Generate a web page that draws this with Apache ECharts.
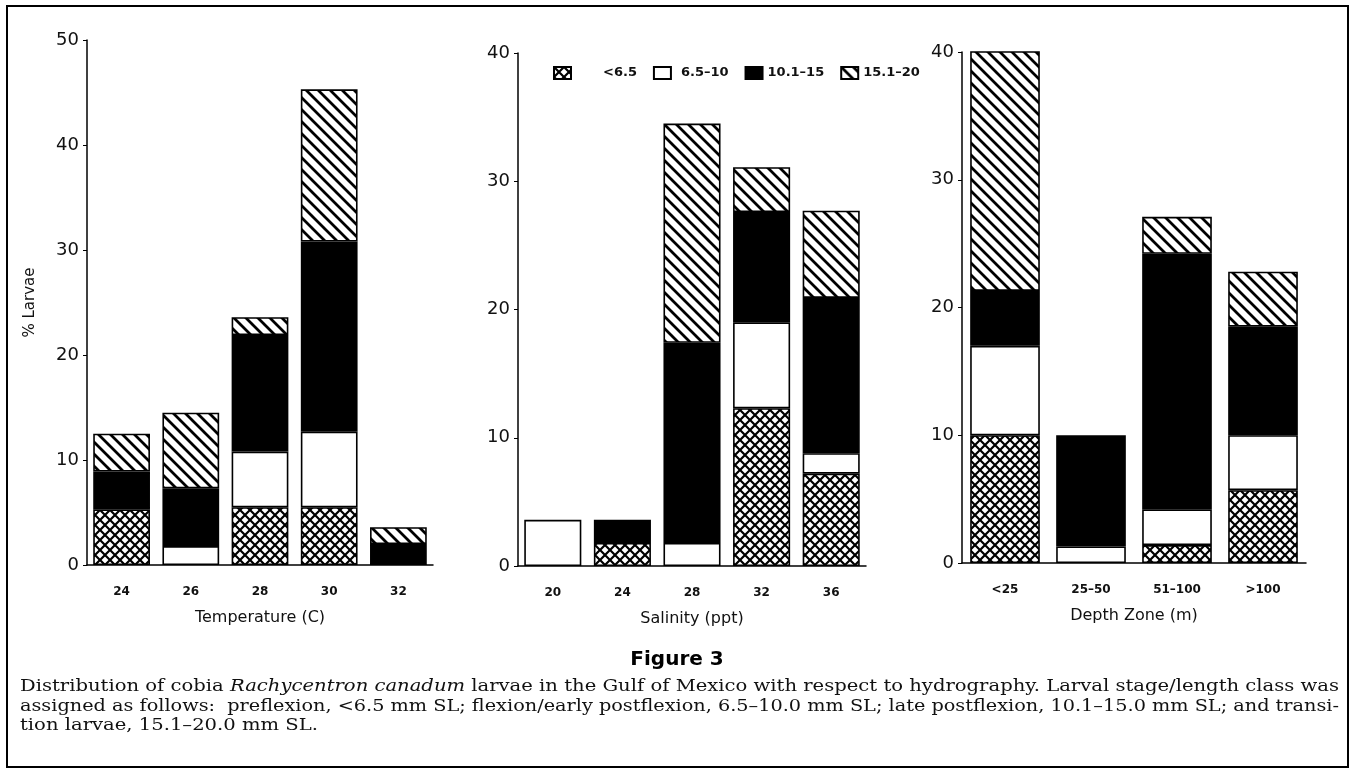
<!DOCTYPE html>
<html><head><meta charset="utf-8">
<script src="https://cdn.jsdelivr.net/npm/echarts@6/dist/echarts.min.js"></script>
<style>html,body{margin:0;padding:0;background:#fff}#c{width:1352px;height:775px}</style>
</head><body><div id="c"></div>
<script>
// ---- data ----
const seriesNames = ['<6.5', '6.5–10', '10.1–15', '15.1–20'];

const tempCategories = ['24', '26', '28', '30', '32'];
const tempPre   = [5.3, 0,   5.5,  5.5,  0];
const tempFlex  = [0,   1.8, 5.3,  7.2,  0];
const tempLate  = [3.6, 5.5, 11.1, 18.1, 2.0];
const tempTrans = [3.6, 7.2, 1.7,  14.5, 1.6];

const salCategories = ['20', '24', '28', '32', '36'];
const salPre   = [0,   1.8, 0,    12.3, 7.2];
const salFlex  = [3.6, 0,   1.8,  6.7,  1.6];
const salLate  = [0,   1.8, 15.6, 8.6,  12.1];
const salTrans = [0,   0,   17.1, 3.5,  6.8];

const depthCategories = ['<25', '25–50', '51–100', '>100'];
const depthPre   = [10.0, 0,   1.4,  5.7];
const depthFlex  = [7.0,  1.3, 2.8,  4.3];
const depthLate  = [4.3,  8.7, 20.0, 8.5];
const depthTrans = [18.8, 0,   2.9,  4.3];

const axisNames = ['Temperature (C)', 'Salinity (ppt)', 'Depth Zone (m)'];
const yAxisTitle = '% Larvae';
const yMax = [50, 40, 40];
const figTitle = 'Figure 3';
const captionL1a = 'Distribution of cobia ';
const captionL1b = 'Rachycentron canadum';
const captionL1c = ' larvae in the Gulf of Mexico with respect to hydrography. Larval stage/length class was';
const captionL2 = 'assigned as follows:  preflexion, <6.5 mm SL; flexion/early postflexion, 6.5–10.0 mm SL; late postflexion, 10.1–15.0 mm SL; and transi-';
const captionL3 = 'tion larvae, 15.1–20.0 mm SL.';

// ---- patterns ----
function makeCross() {
  const s = 10, c = document.createElement('canvas');
  c.width = s; c.height = s;
  const g = c.getContext('2d');
  g.fillStyle = '#fff'; g.fillRect(0, 0, s, s);
  g.strokeStyle = '#000'; g.lineWidth = 2.2;
  g.beginPath();
  g.moveTo(-1, -1); g.lineTo(s + 1, s + 1);
  g.moveTo(s + 1, -1); g.lineTo(-1, s + 1);
  g.stroke();
  return c;
}
function makeHatch() {
  const s = 12, c = document.createElement('canvas');
  c.width = s; c.height = s;
  const g = c.getContext('2d');
  g.fillStyle = '#fff'; g.fillRect(0, 0, s, s);
  g.strokeStyle = '#000'; g.lineWidth = 2.8;
  g.beginPath();
  for (const k of [-1, 0, 1]) { g.moveTo(k * s - 2, -2); g.lineTo(k * s + s + 2, s + 2); }
  g.stroke();
  return c;
}
const fills = [
  { image: makeCross(), repeat: 'repeat' },
  '#ffffff',
  '#000000',
  { image: makeHatch(), repeat: 'repeat' }
];

const chart = echarts.init(document.getElementById('c'), null, { renderer: 'canvas' });

const grids = [
  { left: 87, right: 919, top: 40, bottom: 210 },
  { left: 518, right: 486, top: 53, bottom: 209 },
  { left: 962, right: 46, top: 52, bottom: 212 }
];
const cats = [tempCategories, salCategories, depthCategories];
const groups = [
  [tempPre, tempFlex, tempLate, tempTrans],
  [salPre, salFlex, salLate, salTrans],
  [depthPre, depthFlex, depthLate, depthTrans]
];

const xAxes = cats.map((c, i) => ({
  type: 'category', gridIndex: i, data: c,
  axisLine: { lineStyle: { color: '#000', width: 1.5 } },
  axisTick: { show: false },
  axisLabel: { color: '#111', fontFamily: 'DejaVu Sans', fontWeight: 'bold', fontSize: 12, margin: 21 },
  name: axisNames[i], nameLocation: 'middle', nameGap: 45,
  nameTextStyle: { color: '#111', fontFamily: 'DejaVu Sans', fontSize: 16 }
}));
const yAxes = yMax.map((m, i) => ({
  type: 'value', gridIndex: i, min: 0, max: m, interval: 10,
  axisLine: { show: true, lineStyle: { color: '#000', width: 1.5 } },
  axisTick: { show: true, length: 4, lineStyle: { color: '#000' } },
  splitLine: { show: false },
  axisLabel: { color: '#111', fontFamily: 'DejaVu Sans', fontSize: 18, margin: 8 },
  name: i === 0 ? yAxisTitle : '', nameLocation: 'middle', nameGap: 49,
  nameTextStyle: { color: '#111', fontFamily: 'DejaVu Sans', fontSize: 15 }
}));

const series = [];
groups.forEach((arrs, gi) => {
  arrs.forEach((arr, si) => {
    series.push({
      name: seriesNames[si], type: 'bar', stack: 'st' + gi,
      xAxisIndex: gi, yAxisIndex: gi,
      barCategoryGap: gi === 2 ? '19%' : '18%',
      data: arr.map(v => (v === 0 ? '-' : v)),
      itemStyle: { color: fills[si], borderColor: '#000', borderWidth: 1.6 },
      emphasis: { disabled: true }
    });
  });
});

// caption measurement for justification
const mc = document.createElement('canvas').getContext('2d');
const capSize = 16, capFam = '"DejaVu Serif"';
function tw(t, italic) { mc.font = (italic ? 'italic ' : '') + capSize + 'px ' + capFam; return mc.measureText(t).width; }
const capLeft = 20, capRight = 1339;
const w1 = tw(captionL1a) + tw(captionL1b, true) + tw(captionL1c);
const w2 = tw(captionL2);
const s1 = (capRight - capLeft) / w1;
const s2 = (capRight - capLeft) / w2;
const capStyle = { fontFamily: 'DejaVu Serif', fontSize: capSize, fill: '#111', textVerticalAlign: 'middle' };

chart.setOption({
  animation: false,
  backgroundColor: '#fff',
  grid: grids,
  xAxis: xAxes,
  yAxis: yAxes,
  legend: {
    left: 548, top: 61, itemWidth: 17, itemHeight: 12, itemGap: 16,
    icon: 'rect',
    selectedMode: false,
    textStyle: { color: '#111', fontFamily: 'DejaVu Sans', fontWeight: 'bold', fontSize: 13 },
    data: [
      { name: seriesNames[0], textStyle: { padding: [0, 0, 0, 27] } },
      { name: seriesNames[1], textStyle: { padding: [0, 0, 0, 5] } },
      { name: seriesNames[2] },
      { name: seriesNames[3] }
    ]
  },
  series: series,
  graphic: [
    { type: 'rect', shape: { x: 7, y: 6, width: 1341, height: 761 }, style: { fill: 'none', stroke: '#000', lineWidth: 2 }, silent: true },
    { type: 'text', x: 677, y: 660, style: { text: figTitle, fontFamily: 'DejaVu Sans', fontWeight: 'bold', fontSize: 20, fill: '#000', textAlign: 'center', textVerticalAlign: 'middle' } },
    { type: 'text', x: capLeft, y: 687, scaleX: s1,
      style: Object.assign({}, capStyle, {
        text: '{n|' + captionL1a + '}{i|' + captionL1b + '}{n|' + captionL1c + '}',
        rich: { n: { fontFamily: 'DejaVu Serif', fontSize: capSize, color: '#111' }, i: { fontFamily: 'DejaVu Serif', fontStyle: 'italic', fontSize: capSize, color: '#111' } }
      }) },
    { type: 'text', x: capLeft, y: 707, scaleX: s2, style: Object.assign({}, capStyle, { text: captionL2 }) },
    { type: 'text', x: capLeft, y: 726, scaleX: s1, style: Object.assign({}, capStyle, { text: captionL3 }) }
  ]
});
</script>
</body></html>
